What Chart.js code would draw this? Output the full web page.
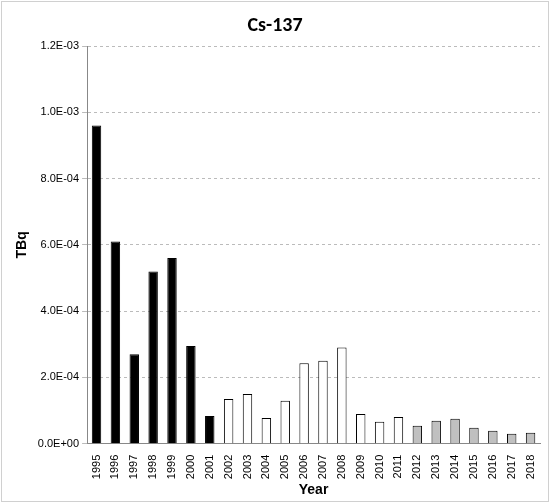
<!DOCTYPE html>
<html>
<head>
<meta charset="utf-8">
<script src="https://cdn.jsdelivr.net/npm/chart.js@4"></script>
<style>
  body { margin: 0; background: #fff; }
  #wrap { position: absolute; left: 1px; top: 1px; width: 546px; height: 499px; border: 1px solid #d0d0d0; }
</style>
</head>
<body>
<div id="wrap"><canvas id="chart"></canvas></div>
<script>
const years = ['1995','1996','1997','1998','1999','2000','2001','2002','2003','2004','2005','2006',
  '2007','2008','2009','2010','2011','2012','2013','2014','2015','2016','2017','2018'];
const values = [9.6e-4, 6.1e-4, 2.7e-4, 5.2e-4, 5.6e-4, 2.95e-4, 8.4e-5, 1.35e-4, 1.5e-4, 7.8e-5,
  1.3e-4, 2.43e-4, 2.5e-4, 2.9e-4, 9.0e-5, 6.6e-5, 8.1e-5, 5.4e-5, 6.9e-5, 7.5e-5, 4.8e-5, 3.9e-5, 3.0e-5, 3.3e-5];
const yTicks = [0, 2e-4, 4e-4, 6e-4, 8e-4, 1e-3, 1.2e-3];

// colour group per year: black up to 2001, white to 2011, grey after
const fills = years.map(y => +y <= 2001 ? '#000000' : (+y <= 2011 ? '#ffffff' : '#c0c0c0'));

function sci(v) {
  if (v === 0) return '0.0E+00';
  const [m, e] = v.toExponential(1).split('e');
  const n = parseInt(e);
  return m + 'E' + (n < 0 ? '-' : '+') + String(Math.abs(n)).padStart(2, '0');
}

new Chart(document.getElementById('chart'), {
  type: 'bar',
  data: {
    labels: years,
    datasets: [{
      data: values,
      backgroundColor: fills,
      borderColor: '#000',
      borderWidth: 1,
      barPercentage: 0.5,
      categoryPercentage: 1
    }]
  },
  options: {
    responsive: true,
    maintainAspectRatio: false,
    animation: false,
    layout: { padding: { left: 8, right: 8, top: 4, bottom: 2 } },
    plugins: {
      legend: { display: false },
      title: { display: true, text: 'Cs-137', color: '#000', font: { family: 'Carlito, "Liberation Sans", sans-serif', size: 20, weight: 'bold' }, padding: { top: 8, bottom: 8 } }
    },
    scales: {
      x: {
        grid: { display: false },
        border: { color: '#888' },
        ticks: { color: '#000', maxRotation: 90, minRotation: 90, autoSkip: false, font: { family: '"Liberation Sans", sans-serif', size: 11 } },
        title: { display: true, text: 'Year', color: '#000', font: { family: '"Liberation Sans", sans-serif', size: 14, weight: 'bold' }, padding: 0 }
      },
      y: {
        min: 0, max: 1.2e-3,
        afterBuildTicks: axis => { axis.ticks = yTicks.map(v => ({ value: v })); },
        grid: { color: '#bbb', tickLength: 5, drawTicks: true },
        border: { color: '#888', dash: [3, 3] },
        ticks: { color: '#000', callback: v => sci(v), font: { family: '"Liberation Sans", sans-serif', size: 11 } },
        title: { display: true, text: 'TBq', color: '#000', font: { family: '"Liberation Sans", sans-serif', size: 14, weight: 'bold' } }
      }
    }
  }
});
</script>
</body>
</html>
